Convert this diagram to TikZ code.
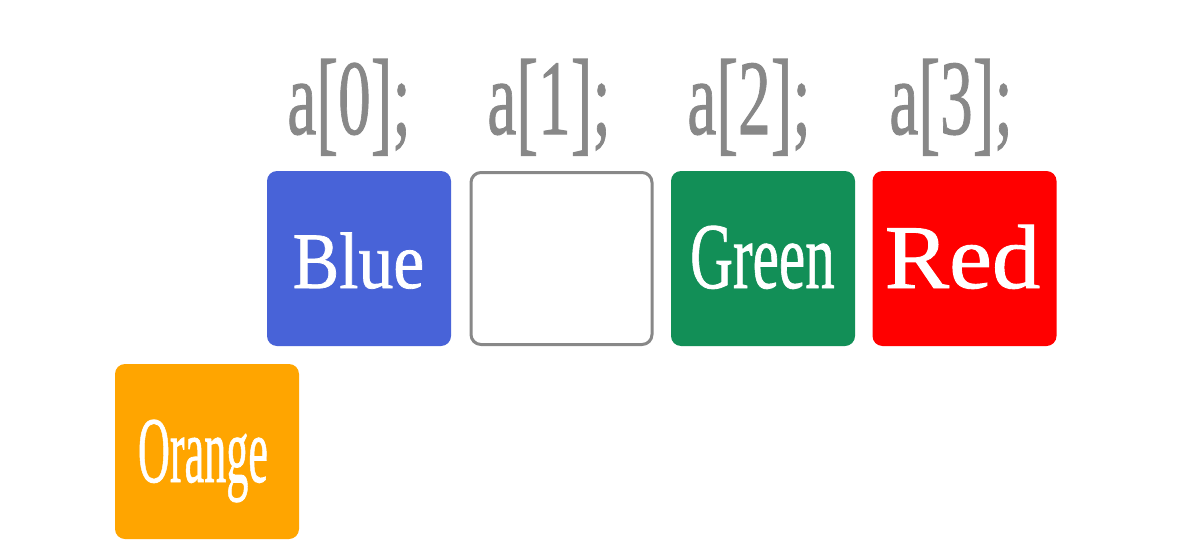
\documentclass[tikz,border=0pt]{standalone}
\usepackage{fontspec}
\setmainfont{Liberation Serif}
\newfontfamily\heavyserif[FakeBold=1]{Liberation Serif}
\usepackage{graphicx}
\definecolor{cblue}{RGB}{72,99,216}
\definecolor{cgreen}{RGB}{18,143,87}
\definecolor{cred}{RGB}{255,0,0}
\definecolor{corange}{RGB}{255,165,0}
\definecolor{cgray}{RGB}{136,136,136}
\tikzset{
  cell/.style={rectangle, rounded corners=10pt, minimum width=184pt, minimum height=175pt, inner sep=0pt, draw=none},
  idx/.style={anchor=base, inner sep=0pt, text=cgray},
  word/.style={anchor=base, inner sep=0pt, text=white},
}
\newcommand{\sq}[3]{\scalebox{#1}[1]{\fontsize{#2}{#2}\heavyserif\selectfont #3}}
\newcommand{\lb}{\raisebox{-6pt}{\scalebox{1}[1.09]{[}}}
\newcommand{\rb}{\raisebox{-6pt}{\scalebox{1}[1.09]{]}}}
\begin{document}
\begin{tikzpicture}[x=1pt,y=-1pt]
\useasboundingbox[fill=white] (0,0) rectangle (1192,554);
% boxes
\node[cell, fill=cblue] (b0) at (359,258.5) {};
\node[cell, fill=white, draw=cgray, line width=3pt, minimum width=181pt, minimum height=172pt] (b1) at (561.5,258.5) {};
\node[cell, fill=cgreen] (b2) at (763,258.5) {};
\node[cell, fill=cred] (b3) at (964.5,258.5) {};
\node[cell, fill=corange] (b4) at (207,451.5) {};
% index labels
\node[idx] (l0) at (349,134) {\sq{0.61}{107}{a\lb0\rb;}};
\node[idx] (l1) at (549,134) {\sq{0.61}{107}{a\lb1\rb;}};
\node[idx] (l2) at (749,134) {\sq{0.61}{107}{a\lb2\rb;}};
\node[idx] (l3) at (951,134) {\sq{0.61}{107}{a\lb3\rb;}};
% words
\node[word] (w0) at (358.5,288) {\sq{0.87}{80}{Blue}};
\node[word] (w2) at (762.5,288) {\sq{0.63}{94}{Green}};
\node[word] (w3) at (962.5,288) {\sq{1.06}{91}{Red}};
\node[word] (w4) at (203,482) {\sq{0.47}{94}{Orange}};
\end{tikzpicture}
\end{document}
